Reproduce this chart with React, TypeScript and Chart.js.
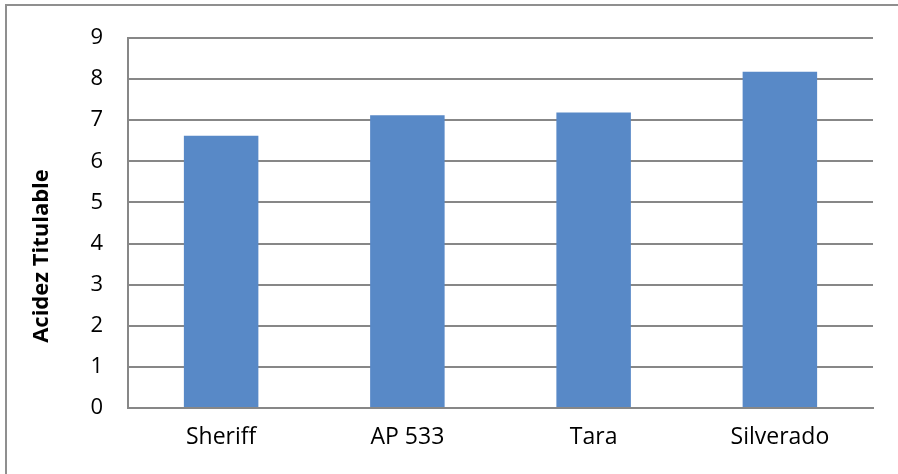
import React, { useEffect, useRef } from "react";
import { Chart, registerables } from "chart.js";

Chart.register(...registerables);

const categories = ["Sheriff", "AP 533", "Tara", "Silverado"];
const acidezValues = [6.62, 7.12, 7.19, 8.18];
const yTickValues = [0, 1, 2, 3, 4, 5, 6, 7, 8, 9];
const yAxisTitle = "Acidez Titulable";

const GRID = "#878787";

const yTitlePlugin = {
  id: "yTitlePlugin",
  afterDraw(chart: any) {
    const ctx = chart.ctx;
    const area = chart.chartArea;
    ctx.save();
    ctx.translate(42, (area.top + area.bottom) / 2 + 33);
    ctx.rotate(-Math.PI / 2);
    ctx.font = "bold 22px 'Open Sans'";
    ctx.fillStyle = "#000";
    ctx.textAlign = "center";
    ctx.textBaseline = "middle";
    ctx.fillText(yAxisTitle, 0, 0);
    ctx.restore();
  },
};

export default function App() {
  const ref = useRef<HTMLCanvasElement | null>(null);
  useEffect(() => {
    if (!ref.current) return;
    const chart = new Chart(ref.current, {
      type: "bar",
      data: {
        labels: categories,
        datasets: [
          {
            label: yAxisTitle,
            data: acidezValues,
            backgroundColor: "#5889C7",
            borderColor: "#7ea3d6",
            borderWidth: 0,
            barPercentage: 0.4,
            categoryPercentage: 1,
          },
        ],
      },
      options: {
        responsive: false,
        animation: false,
        layout: { padding: { top: 38, right: 25, left: 0, bottom: 0 } },
        plugins: { legend: { display: false }, tooltip: { enabled: false } },
        scales: {
          x: {
            grid: { display: false, drawTicks: false },
            border: { display: true, color: GRID, width: 2 },
            ticks: {
              color: "#000",
              font: { family: "'Open Sans'", size: 23 },
              padding: 16,
              maxRotation: 0,
            },
            afterFit(scale: any) {
              scale.height = 66;
              scale.paddingLeft = 0;
              scale.paddingRight = 0;
            },
          },
          y: {
            min: 0,
            max: 9,
            afterBuildTicks(scale: any) {
              scale.ticks = yTickValues.map((v) => ({ value: v }));
            },
            grid: { color: GRID, lineWidth: 2, drawTicks: false },
            border: { display: true, color: GRID, width: 2 },
            ticks: {
              color: "#000",
              font: { family: "'Open Sans'", size: 22 },
              padding: 25,
            },
            afterFit(scale: any) {
              scale.width = 128;
              scale.paddingTop = 0;
              scale.paddingBottom = 0;
            },
          },
        },
      },
      plugins: [yTitlePlugin],
    });
    return () => chart.destroy();
  }, []);

  return (
    <div style={{ position: "absolute", left: 0, top: 0, width: 898, height: 474, background: "#fff" }}>
      <canvas ref={ref} width={898} height={474} style={{ display: "block" }} />
      <div
        style={{
          position: "absolute",
          left: 5,
          top: 4,
          right: 0,
          bottom: 0,
          borderLeft: "2px solid #8f8f8f",
          borderTop: "2px solid #8f8f8f",
          pointerEvents: "none",
        }}
      />
    </div>
  );
}
